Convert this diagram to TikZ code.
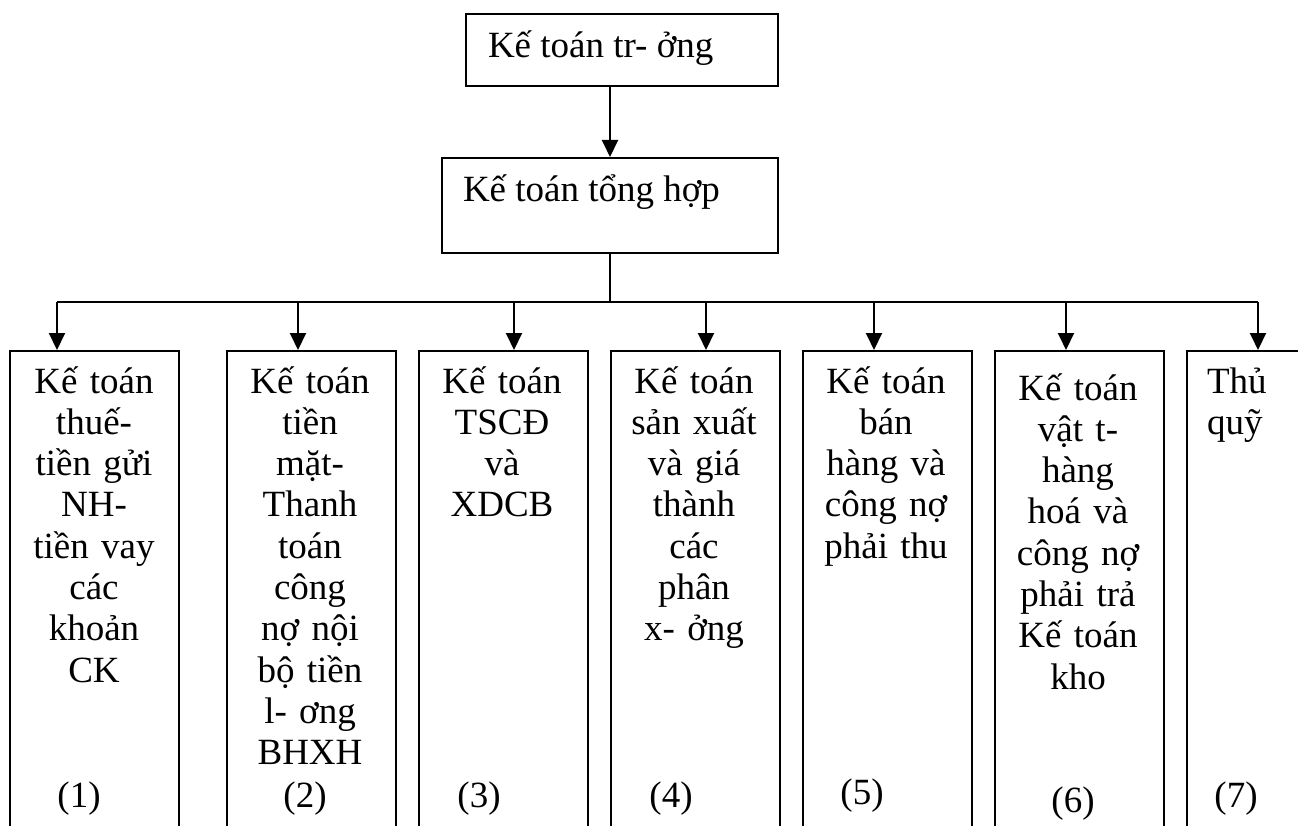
\documentclass[tikz,border=0pt]{standalone}
\usepackage{fontspec}
\setmainfont{Liberation Serif}
\usetikzlibrary{arrows.meta}
\begin{document}
\begin{tikzpicture}[x=1pt,y=-1pt,
  line width=2pt,
  txt/.style={font=\fontsize{37}{41.3}\selectfont, inner sep=0pt},
  coltxt/.style={txt, text width=175pt, align=center, anchor=base},
  numtxt/.style={txt, anchor=base},
  boxline/.style={draw, line width=2pt},
  arr/.style={-{Triangle[length=17pt,width=16pt]}, line width=2pt},
]
\useasboundingbox (0,0) rectangle (1298,826);
\clip (0,0) rectangle (1298,826);

% head boxes
\node[boxline, inner sep=0pt, minimum width=312pt, minimum height=72pt] (tr) at (622,50) {};
\node[txt, anchor=base west] (trt) at (487,58) {Kế toán tr- ởng};

\node[boxline, inner sep=0pt, minimum width=336pt, minimum height=95pt] (th) at (610,205.5) {};
\node[txt, anchor=base west] (tht) at (462,202) {Kế toán tổng hợp};

\draw[arr] (th.north |- tr.south) -- (th.north);

% column boxes, open at the bottom edge
\foreach \i/\l in {1/9,2/226,3/418,4/610,5/802,6/994,7/1186}{
  \node[boxline, inner sep=0pt, anchor=north west, minimum width=169pt, minimum height=520pt] (c\i) at (\l,350) {};
}

% distribution bus
\coordinate (bus) at (610,302);
\foreach \i/\x in {1/57,2/298,3/514,4/706,5/874,6/1066,7/1258}{
  \coordinate (d\i) at (\x,302);
}
\draw (th.south) -- (bus);
\draw (d1) -- (d7);
\foreach \i in {1,...,7}{
  \draw[arr] (d\i) -- (d\i |- c\i.north);
}

% column texts
\node[coltxt] (t1) at (94,393) {Kế toán\\thuế-\\tiền gửi\\NH-\\tiền vay\\các\\khoản\\CK};
\node[coltxt] (t2) at (310,393) {Kế toán\\tiền\\mặt-\\Thanh\\toán\\công\\nợ nội\\bộ tiền\\l- ơng\\BHXH};
\node[coltxt] (t3) at (502,393) {Kế toán\\TSCĐ\\và\\XDCB};
\node[coltxt] (t4) at (694,393) {Kế toán\\sản xuất\\và giá\\thành\\các\\phân\\x- ởng};
\node[coltxt] (t5) at (886,393) {Kế toán\\bán\\hàng và\\công nợ\\phải thu};
\node[coltxt] (t6) at (1078,400) {Kế toán\\vật t-\\hàng\\hoá và\\công nợ\\phải trả\\Kế toán\\kho};
\node[txt, text width=85pt, align=left, anchor=base west] (t7) at (1206,393) {Thủ\\quỹ};

% column numbers
\node[numtxt] (n1) at (79,807) {(1)};
\node[numtxt] (n2) at (305,807) {(2)};
\node[numtxt] (n3) at (479,807) {(3)};
\node[numtxt] (n4) at (671,807) {(4)};
\node[numtxt] (n5) at (862,804) {(5)};
\node[numtxt] (n6) at (1073,812) {(6)};
\node[numtxt] (n7) at (1236,807) {(7)};
\end{tikzpicture}
\end{document}
